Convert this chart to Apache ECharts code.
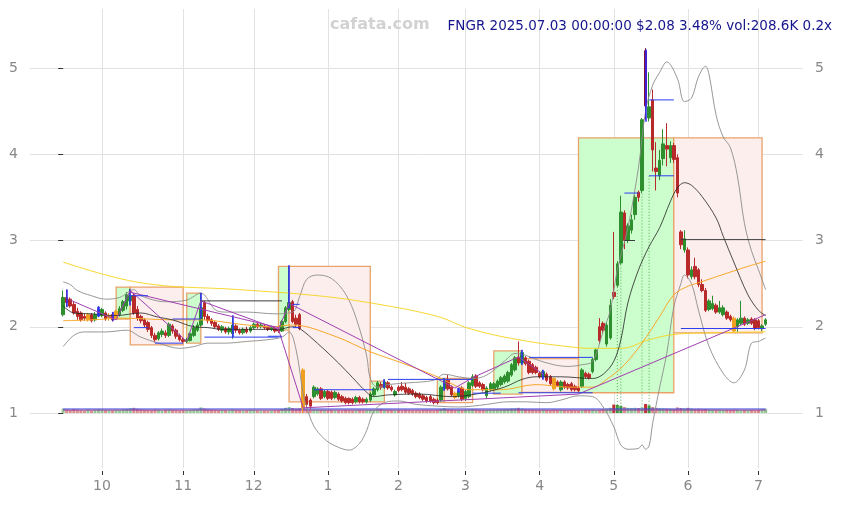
<!DOCTYPE html>
<html>
<head>
<meta charset="utf-8">
<script src="https://cdn.jsdelivr.net/npm/echarts@6.0.0/dist/echarts.min.js"></script>
<style>
html,body{margin:0;padding:0;background:#ffffff;}
#chart{width:848px;height:505px;}
</style>
</head>
<body>
<div id="chart"></div>
<script>
// ---------- categories: trading days ----------
const monthKeys = ['2024-09','2024-10','2024-11','2024-12','2025-01','2025-02','2025-03','2025-04','2025-05','2025-06','2025-07'];
const daysSep24 = [16,17,18,19,20,23,24,25,26,27,30];
const daysOct24 = [1,2,3,4,7,8,9,10,11,14,15,16,17,18,21,22,23,24,25,28,29,30,31];
const daysNov24 = [1,4,5,6,7,8,11,12,13,14,15,18,19,20,21,22,25,26,27,29];
const daysDec24 = [2,3,4,5,6,9,10,11,12,13,16,17,18,19,20,23,24,26,27,30,31];
const daysJan25 = [2,3,6,7,8,10,13,14,15,16,17,21,22,23,24,27,28,29,30,31];
const daysFeb25 = [3,4,5,6,7,10,11,12,13,14,18,19,20,21,24,25,26,27,28];
const daysMar25 = [3,4,5,6,7,10,11,12,13,14,17,18,19,20,21,24,25,26,27,28,31];
const daysApr25 = [1,2,3,4,7,8,9,10,11,14,15,16,17,21,22,23,24,25,28,29,30];
const daysMay25 = [1,2,5,6,7,8,9,12,13,14,15,16,19,20,21,22,23,27,28,29,30];
const daysJun25 = [2,3,4,5,6,9,10,11,12,13,16,17,18,20,23,24,25,26,27,30];
const daysJul25 = [1,2,3];

// x tick labels (month numbers) and y tick values
const tickLabels = ['10','11','12','1','2','3','4','5','6','7'];
const yTicks = [1,2,3,4,5];

// ---------- OHLC: [open, close, low, high] ----------
const ohlcSep = [[2.14,2.34,2.12,2.42],[2.34,2.28,2.23,2.43],[2.32,2.24,2.22,2.34],[2.26,2.16,2.14,2.29],[2.18,2.12,2.08,2.22],[2.16,2.08,2.06,2.18],[2.12,2.10,2.07,2.15],[2.08,2.14,2.06,2.16],[2.14,2.07,2.05,2.16],[2.08,2.14,2.06,2.17],[2.13,2.20,2.11,2.24]];
const ohlcOct = [[2.13,2.20,2.11,2.22],[2.16,2.09,2.07,2.18],[2.10,2.13,2.07,2.16],[2.14,2.08,2.06,2.17],[2.09,2.18,2.08,2.20],[2.14,2.21,2.12,2.24],[2.19,2.29,2.17,2.31],[2.24,2.37,2.20,2.40],[2.30,2.36,2.25,2.44],[2.36,2.16,2.14,2.38],[2.20,2.10,2.07,2.24],[2.12,2.07,2.04,2.14],[2.08,2.02,1.99,2.10],[2.05,1.97,1.94,2.07],[1.99,1.90,1.87,2.01],[1.90,1.85,1.82,1.93],[1.86,1.93,1.84,1.95],[1.91,1.95,1.88,1.98],[1.93,1.90,1.87,1.96],[1.90,2.03,1.88,2.05],[2.01,1.95,1.92,2.03],[1.96,1.89,1.86,1.98],[1.90,1.85,1.83,1.92]];
const ohlcNov = [[1.85,1.83,1.81,1.88],[1.83,1.85,1.81,1.87],[1.84,1.92,1.83,1.94],[1.90,1.99,1.88,2.02],[1.96,2.02,1.94,2.05],[2.02,2.22,2.00,2.39],[2.28,2.12,2.08,2.30],[2.12,2.07,2.04,2.15],[2.08,2.04,2.01,2.10],[2.05,2.00,1.98,2.07],[2.01,1.97,1.95,2.03],[1.96,2.00,1.93,2.02],[1.98,1.94,1.92,2.00],[1.94,1.98,1.91,2.00],[1.92,2.02,1.86,2.13],[2.01,1.96,1.93,2.03],[1.96,1.93,1.91,1.98],[1.93,1.97,1.91,1.99],[1.97,1.94,1.92,2.00],[1.95,1.99,1.93,2.01]];
const ohlcDec = [[1.99,2.03,1.97,2.05],[2.03,2.00,1.98,2.05],[2.00,2.02,1.98,2.04],[2.01,1.99,1.97,2.03],[1.99,1.97,1.95,2.01],[1.97,1.99,1.95,2.01],[1.98,1.95,1.93,2.00],[1.97,1.95,1.93,1.99],[1.95,2.06,1.94,2.08],[2.06,2.22,2.04,2.24],[2.20,2.28,2.18,2.70],[2.29,2.06,2.04,2.31],[2.10,2.03,2.00,2.14],[2.14,1.98,1.96,2.16],[1.50,1.06,1.00,1.52],[1.19,1.10,1.06,1.22],[1.15,1.08,1.05,1.17],[1.19,1.30,1.17,1.32],[1.22,1.28,1.20,1.30],[1.28,1.17,1.15,1.30],[1.19,1.25,1.17,1.27]];
const ohlcJan = [[1.25,1.17,1.15,1.27],[1.24,1.17,1.15,1.26],[1.18,1.24,1.16,1.26],[1.22,1.16,1.14,1.24],[1.19,1.14,1.12,1.21],[1.17,1.12,1.10,1.19],[1.17,1.12,1.10,1.18],[1.16,1.12,1.10,1.18],[1.13,1.18,1.11,1.20],[1.18,1.13,1.11,1.20],[1.16,1.13,1.11,1.18],[1.13,1.16,1.11,1.18],[1.15,1.22,1.13,1.24],[1.21,1.28,1.19,1.30],[1.27,1.35,1.25,1.37],[1.33,1.30,1.27,1.36],[1.30,1.36,1.28,1.39],[1.35,1.29,1.27,1.37],[1.30,1.27,1.25,1.32],[1.21,1.25,1.19,1.27]];
const ohlcFeb = [[1.30,1.26,1.24,1.32],[1.31,1.27,1.25,1.36],[1.30,1.24,1.22,1.35],[1.28,1.23,1.21,1.30],[1.26,1.22,1.20,1.28],[1.23,1.19,1.17,1.25],[1.22,1.18,1.16,1.24],[1.20,1.16,1.14,1.22],[1.18,1.14,1.12,1.20],[1.19,1.14,1.12,1.21],[1.16,1.12,1.10,1.18],[1.15,1.12,1.10,1.17],[1.15,1.30,1.13,1.32],[1.28,1.38,1.26,1.40],[1.38,1.28,1.26,1.44],[1.30,1.21,1.19,1.32],[1.23,1.18,1.16,1.25],[1.20,1.25,1.18,1.29],[1.29,1.16,1.14,1.31]];
const ohlcMar = [[1.17,1.25,1.14,1.27],[1.19,1.35,1.17,1.37],[1.32,1.42,1.30,1.45],[1.43,1.31,1.29,1.45],[1.35,1.31,1.29,1.37],[1.33,1.27,1.25,1.35],[1.20,1.29,1.17,1.31],[1.27,1.34,1.25,1.36],[1.28,1.34,1.26,1.36],[1.30,1.37,1.28,1.39],[1.33,1.41,1.31,1.43],[1.36,1.43,1.34,1.45],[1.37,1.47,1.35,1.49],[1.44,1.56,1.42,1.58],[1.50,1.64,1.48,1.66],[1.65,1.58,1.55,1.83],[1.58,1.70,1.56,1.73],[1.64,1.57,1.55,1.66],[1.60,1.47,1.45,1.62],[1.56,1.47,1.45,1.58],[1.53,1.47,1.45,1.55]];
const ohlcApr = [[1.46,1.42,1.40,1.48],[1.42,1.48,1.39,1.50],[1.45,1.38,1.36,1.47],[1.42,1.34,1.32,1.44],[1.40,1.28,1.26,1.41],[1.36,1.32,1.30,1.38],[1.27,1.36,1.25,1.38],[1.36,1.30,1.28,1.38],[1.33,1.29,1.27,1.35],[1.34,1.27,1.25,1.36],[1.31,1.27,1.25,1.33],[1.29,1.26,1.24,1.31],[1.31,1.50,1.29,1.52],[1.46,1.42,1.40,1.48],[1.45,1.41,1.39,1.47],[1.48,1.62,1.46,1.64],[1.62,1.73,1.60,1.75],[2.00,1.84,1.80,2.10],[2.04,1.96,1.92,2.06],[1.80,2.02,1.77,2.05],[1.87,2.25,1.85,2.32]];
const ohlcMay = [[2.40,2.35,2.32,3.10],[2.48,2.73,2.46,2.76],[2.74,3.33,2.72,3.52],[3.32,3.00,2.90,3.35],[3.00,3.17,2.97,3.20],[3.12,3.24,3.08,3.30],[3.30,3.50,3.24,3.53],[3.56,3.50,3.45,3.58],[3.58,4.40,3.55,4.42],[5.20,4.56,4.40,5.23],[4.42,4.55,4.38,4.95],[4.63,4.05,3.80,4.75],[3.84,3.80,3.58,4.14],[3.75,3.93,3.70,4.05],[3.95,4.12,3.87,4.29],[4.10,4.06,3.86,4.36],[3.96,4.10,3.90,4.15],[4.10,3.94,3.90,4.13],[3.96,3.55,3.50,4.00],[3.10,2.95,2.90,3.12],[2.89,3.02,2.86,3.12]];
const ohlcJun = [[2.89,2.60,2.56,2.92],[2.58,2.66,2.55,2.70],[2.70,2.58,2.55,2.80],[2.66,2.49,2.46,2.68],[2.49,2.42,2.40,2.55],[2.42,2.19,2.17,2.45],[2.20,2.30,2.18,2.32],[2.21,2.27,2.19,2.36],[2.25,2.17,2.15,2.27],[2.17,2.22,2.15,2.30],[2.14,2.22,2.12,2.25],[2.17,2.10,2.08,2.19],[2.12,2.08,2.06,2.14],[2.10,1.95,1.93,2.12],[2.00,2.08,1.94,2.10],[2.04,2.10,2.02,2.30],[2.10,2.03,2.01,2.12],[2.04,2.08,2.02,2.10],[2.09,2.04,2.02,2.11],[2.08,1.98,1.96,2.10]];
const ohlcJul = [[2.07,1.99,1.97,2.09],[1.98,2.01,1.95,2.03],[2.03,2.08,2.01,2.10]];

// ---------- volume (thousands) ----------
const volSep = [220,180,150,200,160,140,120,180,130,160,190];
const volOct = [170,150,140,130,160,140,180,200,230,260,210,180,160,150,140,170,150,130,160,180,150,140,130];
const volNov = [140,130,150,170,190,280,220,180,160,150,140,150,140,130,180,150,140,130,140,150];
const volDec = [140,130,120,130,120,130,140,150,200,260,300,250,220,240,300,180,160,170,150,160,150];
const volJan = [140,150,130,140,130,150,140,130,140,150,130,140,150,160,180,200,170,160,150,140];
const volFeb = [150,140,160,140,130,140,130,140,150,140,130,150,200,240,180,170,150,160,150];
const volMar = [160,170,200,180,160,150,160,170,160,170,180,190,200,220,230,260,220,190,180,170,160];
const volApr = [150,170,160,150,170,150,160,150,140,150,140,130,150,160,150,170,150,160,200,210,260];
const volMay = [420,400,360,300,260,240,260,250,280,450,380,300,260,240,230,220,210,200,280,250,220];
const volJun = [260,220,200,210,190,200,180,170,160,170,150,160,150,170,160,140,150,160,150,140];
const volJul = [150,180,208.6];
const volAvgBlue = 200;
const volAvgPurple = 145;

// ---------- special candles ----------
const orangeDays = [7,13,15,68,111,139,190];
const blueIdx  = [1,10,14,19,39,48,64,91,108,112,130,136,165];
const blueLow  = [2.23,2.12,2.07,2.25,2.10,1.88,2.22,1.29,1.26,1.24,1.56,1.39,4.38];
const blueHigh = [2.43,2.23,2.17,2.43,2.39,2.13,2.71,1.39,1.40,1.29,1.73,1.50,5.21];

// ---------- indicator lines: [dayIndex, price] ----------
const maBlack = [[0,2.24],[3,2.16],[8,2.15],[15,2.13],[22,2.16],[27,2.11],[31,2.08],[37,2.00],[41,1.99],[45,1.97],[55,1.97],[61,1.97],[65,2.00],[67,1.98],[72,1.81],[78,1.58],[82,1.41],[86,1.24],[88,1.19],[92,1.21],[101,1.22],[110,1.19],[117,1.22],[125,1.30],[130,1.39],[134,1.42],[141,1.42],[150,1.40],[153,1.45],[156,1.60],[158,1.85],[160,2.28],[163,2.66],[166,2.93],[169,3.15],[172,3.45],[174,3.61],[176,3.67],[178,3.64],[181,3.51],[185,3.26],[187,3.05],[190,2.75],[194,2.37],[197,2.19],[199,2.13]];
const maOrange = [[0,2.07],[8,2.08],[17,2.10],[31,2.08],[39,2.08],[50,2.03],[59,2.00],[65,2.02],[77,1.89],[87,1.71],[96,1.58],[106,1.42],[111,1.32],[115,1.27],[124,1.27],[134,1.33],[143,1.30],[150,1.30],[154,1.39],[159,1.56],[164,1.81],[169,2.12],[173,2.37],[177,2.47],[180,2.51],[188,2.62],[194,2.70],[199,2.76]];
const maYellow = [[0,2.75],[22,2.51],[50,2.43],[72,2.36],[88,2.27],[106,2.12],[115,1.98],[129,1.85],[143,1.77],[150,1.75],[158,1.75],[166,1.85],[173,1.91],[183,1.93],[199,1.94]];
const bbUpper = [[0,2.52],[2,2.49],[4,2.42],[8,2.36],[12,2.32],[16,2.34],[20,2.43],[22,2.36],[29,2.29],[35,2.31],[39,2.39],[43,2.20],[46,2.17],[52,2.17],[60,2.15],[65,2.17],[67,2.35],[69,2.55],[72,2.60],[76,2.56],[80,2.38],[83,2.10],[86,1.66],[87,1.40],[89,1.30],[92,1.33],[98,1.35],[105,1.38],[108,1.45],[112,1.42],[116,1.40],[120,1.44],[125,1.60],[128,1.69],[131,1.67],[134,1.62],[139,1.56],[143,1.54],[147,1.56],[150,1.60],[153,1.95],[155,2.19],[157,2.66],[160,3.15],[163,3.85],[165,4.50],[167,4.80],[169,4.95],[171,5.07],[174,4.88],[176,4.61],[178,4.65],[180,4.90],[182,5.02],[183,4.92],[185,4.45],[187,4.20],[189,4.08],[191,3.75],[193,3.20],[195,2.88],[197,2.66],[199,2.43]];
const bbLower = [[0,1.77],[3,1.90],[6,1.94],[12,1.94],[18,1.96],[22,1.88],[27,1.81],[33,1.75],[37,1.77],[41,1.81],[46,1.81],[52,1.83],[58,1.85],[62,1.88],[64,1.94],[66,1.73],[68,1.22],[69,1.07],[71,0.85],[74,0.70],[77,0.62],[81,0.57],[84,0.65],[86,0.80],[88,1.02],[91,1.12],[95,1.14],[100,1.10],[106,1.08],[112,1.07],[116,1.08],[120,1.10],[126,1.13],[131,1.13],[137,1.12],[141,1.15],[146,1.20],[150,1.19],[153,1.07],[156,0.84],[158,0.63],[160,0.58],[163,0.59],[164,0.63],[165,0.58],[166,0.62],[167,0.88],[169,1.30],[171,1.69],[173,2.23],[175,2.50],[176,2.60],[178,2.50],[180,2.19],[183,1.77],[187,1.46],[190,1.35],[193,1.50],[195,1.81],[197,1.83],[199,1.87]];
const purpleA = [[2,2.31],[15,2.08],[19,2.42],[35,1.83],[39,2.30],[61,1.97],[64,2.27],[111,1.29],[116,1.41],[129,1.65],[136,1.45]];
const purpleB = [[19,2.40],[61,1.99]];
const purpleC = [[61,1.97],[68,1.06],[146,1.22],[199,2.14]];

// ---------- boxes ----------
const boxStart  = [15,19,35,61,64,87,106,108,122,130,146,173];
const boxEnd    = [19,34,39,64,87,91,108,116,130,146,173,198];
const boxTop    = [2.46,2.46,2.39,2.70,2.70,1.37,1.40,1.40,1.72,1.63,4.19,4.19];
const boxBottom = [2.09,1.79,1.81,1.96,1.13,1.13,1.12,1.12,1.22,1.24,1.235,1.93];
const boxUp     = [1,0,1,1,0,1,1,0,1,0,1,0];

// ---------- horizontal level segments ----------
const segStart = [19,20,26,31,39,40,58,65,65,71,92,116,129,132,159,159,166,166,175,175];
const segEnd   = [24,24,34,39,62,61,62,67,67,88,116,124,150,150,163,162,173,173,199,199];
const segPrice = [2.36,1.99,1.81,2.09,2.30,1.88,1.89,1.99,2.26,1.27,1.39,1.23,1.235,1.645,3.55,3.00,4.63,3.75,3.01,1.98];
const segDark  = [0,0,0,0,1,0,0,0,0,0,0,0,0,0,0,1,0,0,1,0];

// ---------- dotted volume-spike markers ----------
const vDotIdx = [157,158,164,166];
const vDotTop = [2.46,2.72,3.58,3.75];
const vDotBottom = 1.03;

const titleText = 'FNGR 2025.07.03 00:00:00 $2.08 3.48% vol:208.6K 0.2x';

// ================= build =================
const dayLists = [daysSep24,daysOct24,daysNov24,daysDec24,daysJan25,daysFeb25,daysMar25,daysApr25,daysMay25,daysJun25,daysJul25];
const dates = [];
dayLists.forEach((lst, m) => lst.forEach(d => dates.push(monthKeys[m] + '-' + String(d).padStart(2,'0'))));
const tickIdx = [];
for (let i = 1; i < dates.length; i++) {
  if (dates[i].slice(0,7) !== dates[i-1].slice(0,7)) tickIdx.push(i);
}
const ohlc = [].concat(ohlcSep,ohlcOct,ohlcNov,ohlcDec,ohlcJan,ohlcFeb,ohlcMar,ohlcApr,ohlcMay,ohlcJun,ohlcJul);
const volume = [].concat(volSep,volOct,volNov,volDec,volJan,volFeb,volMar,volApr,volMay,volJun,volJul);

const UP = '#2e8f2e', DOWN = '#b82a2a', ORANGE = '#f0a020', BLUE = '#2a2aff';
const PURPLE = '#a040b0', GRID = '#e2e2e2', LABEL = '#888888';

const candleData = ohlc.map((d, i) => {
  const item = { value: [i, d[0], d[1], d[2], d[3]] };
  if (orangeDays.indexOf(i) >= 0) {
    item.itemStyle = { color: ORANGE, color0: ORANGE, borderColor: ORANGE, borderColor0: ORANGE };
  }
  if (i === 165) {
    item.itemStyle = { color: '#7a1040', color0: '#7a1040', borderColor: '#7a1040', borderColor0: '#7a1040' };
  }
  return item;
});
const blueData = blueIdx.map((x, k) => [x, blueLow[k], blueHigh[k], blueLow[k], blueHigh[k]]);
const volData = volume.map((v, i) => {
  const up = ohlc[i][1] >= ohlc[i][0];
  const spike = v > 350;
  return { value: [i, v], itemStyle: { color: up ? '#3a9a3a' : '#c03030', opacity: spike ? 1 : 0.55 } };
});
const boxData = boxStart.map((s, k) => [s, boxEnd[k], boxTop[k], boxBottom[k], boxUp[k]]);

const xMin = -9.4, xMax = 209.6;
const yMin = 0.3627, yMax = 5.6837;

const series = [];
series.push({
  type: 'custom', name: 'boxes', xAxisIndex: 0, yAxisIndex: 0, z: 1, silent: true,
  encode: { x: [0, 1], y: [2, 3] },
  data: boxData,
  renderItem: function (params, api) {
    const p1 = api.coord([api.value(0), api.value(2)]);
    const p2 = api.coord([api.value(1), api.value(3)]);
    const up = api.value(4) === 1;
    return {
      type: 'rect',
      shape: { x: p1[0], y: p1[1], width: p2[0] - p1[0], height: p2[1] - p1[1] },
      style: { fill: up ? '#ccfdcc' : '#fdeeee', stroke: '#e9a36a', lineWidth: 1.3 }
    };
  }
});
function lineSeries(name, data, color, width, extra) {
  return Object.assign({
    type: 'line', name: name, xAxisIndex: 0, yAxisIndex: 0, data: data,
    symbol: 'none', smooth: false, silent: true, z: 4,
    lineStyle: { color: color, width: width }
  }, extra || {});
}
series.push(lineSeries('bbUpper', bbUpper, '#8c8c8c', 0.9, { smooth: 0.35 }));
series.push(lineSeries('bbLower', bbLower, '#8c8c8c', 0.9, { smooth: 0.35 }));
series.push(lineSeries('maYellow', maYellow, '#f7d21a', 0.9, { smooth: 0.4 }));
series.push(lineSeries('maOrange', maOrange, '#f8a82a', 1, { smooth: 0.35 }));
series.push(lineSeries('maBlack', maBlack, '#222222', 0.8, { smooth: 0.35 }));
vDotIdx.forEach((x, k) => {
  series.push(lineSeries('vdot' + k, [[x, vDotTop[k]], [x, vDotBottom]], '#55b055', 1, { lineStyle: { color: '#55b055', width: 1, type: [1, 2] }, z: 2 }));
});
series.push({
  type: 'candlestick', name: 'FNGR', xAxisIndex: 0, yAxisIndex: 0, z: 3, silent: true,
  barWidth: 3,
  data: candleData,
  itemStyle: { color: UP, color0: DOWN, borderColor: UP, borderColor0: DOWN, borderWidth: 1 }
});
series.push({
  type: 'candlestick', name: 'flags', xAxisIndex: 0, yAxisIndex: 0, z: 5, silent: true,
  barWidth: 1.6,
  data: blueData,
  itemStyle: { color: BLUE, color0: BLUE, borderColor: BLUE, borderColor0: BLUE, borderWidth: 0.5 }
});
series.push(lineSeries('purpleA', purpleA, PURPLE, 1, { z: 6 }));
series.push(lineSeries('purpleB', purpleB, PURPLE, 1, { z: 6 }));
series.push(lineSeries('purpleC', purpleC, PURPLE, 1, { z: 6 }));
segStart.forEach((s, k) => {
  series.push(lineSeries('seg' + k, [[s, segPrice[k]], [segEnd[k], segPrice[k]]], segDark[k] ? '#3a3a3a' : '#2a3cf0', 1, { z: 6 }));
});
// volume grid
series.push({
  type: 'bar', name: 'volume', xAxisIndex: 1, yAxisIndex: 2, barWidth: 3, silent: true,
  data: volData, z: 2
});
series.push({ type: 'line', name: 'volBlue', xAxisIndex: 1, yAxisIndex: 2, symbol: 'none', silent: true, z: 3,
  data: [[0, volAvgBlue], [ohlc.length - 1, volAvgBlue]], lineStyle: { color: '#3040e0', width: 1.2 } });
series.push({ type: 'line', name: 'volPurple', xAxisIndex: 1, yAxisIndex: 2, symbol: 'none', silent: true, z: 3,
  data: [[0, volAvgPurple], [ohlc.length - 1, volAvgPurple]], lineStyle: { color: '#9040a0', width: 1 } });

const chart = echarts.init(document.getElementById('chart'), null, { renderer: 'canvas' });
chart.setOption({
  animation: false,
  backgroundColor: '#ffffff',
  textStyle: { fontFamily: 'DejaVu Sans' },
  grid: [
    { left: 30, right: 45, top: 9, bottom: 37 },
    { left: 30, right: 45, top: 396, height: 17 }
  ],
  xAxis: [
    {
      type: 'value', gridIndex: 0, min: xMin, max: xMax, offset: 3,
      axisLine: { show: false },
      axisTick: { show: true, length: 4, customValues: tickIdx, lineStyle: { color: '#333333' } },
      axisLabel: { customValues: tickIdx, color: LABEL, fontSize: 14, margin: 8,
        formatter: function (v) { const k = tickIdx.indexOf(v); return k >= 0 ? tickLabels[k] : ''; } },
      splitLine: { show: true, lineStyle: { color: GRID, width: 1 } }
    },
    { type: 'value', gridIndex: 1, min: xMin, max: xMax, show: false }
  ],
  yAxis: [
    {
      type: 'value', gridIndex: 0, min: yMin, max: yMax, position: 'left',
      axisLine: { show: false },
      axisTick: { show: true, length: 5, customValues: yTicks, lineStyle: { color: '#333333' } },
      axisLabel: { customValues: yTicks, color: LABEL, fontSize: 14, margin: 12 },
      splitLine: { show: true, lineStyle: { color: GRID, width: 1 } }
    },
    {
      type: 'value', gridIndex: 0, min: yMin, max: yMax, position: 'right',
      axisLine: { show: false }, axisTick: { show: false },
      axisLabel: { customValues: yTicks, color: LABEL, fontSize: 14, margin: 12 },
      splitLine: { show: false }
    },
    { type: 'value', gridIndex: 1, min: 0, max: 850, show: false }
  ],
  graphic: [
    { type: 'text', left: 330, top: 17, z: 100, style: { text: 'cafata.com', fill: '#d2d2d2', font: 'bold 16px "DejaVu Sans"' } },
    { type: 'text', right: 16, top: 19, z: 100, style: { text: titleText, fill: '#14148c', font: '13.5px "DejaVu Sans"' } }
  ],
  series: series
});
</script>
</body>
</html>
